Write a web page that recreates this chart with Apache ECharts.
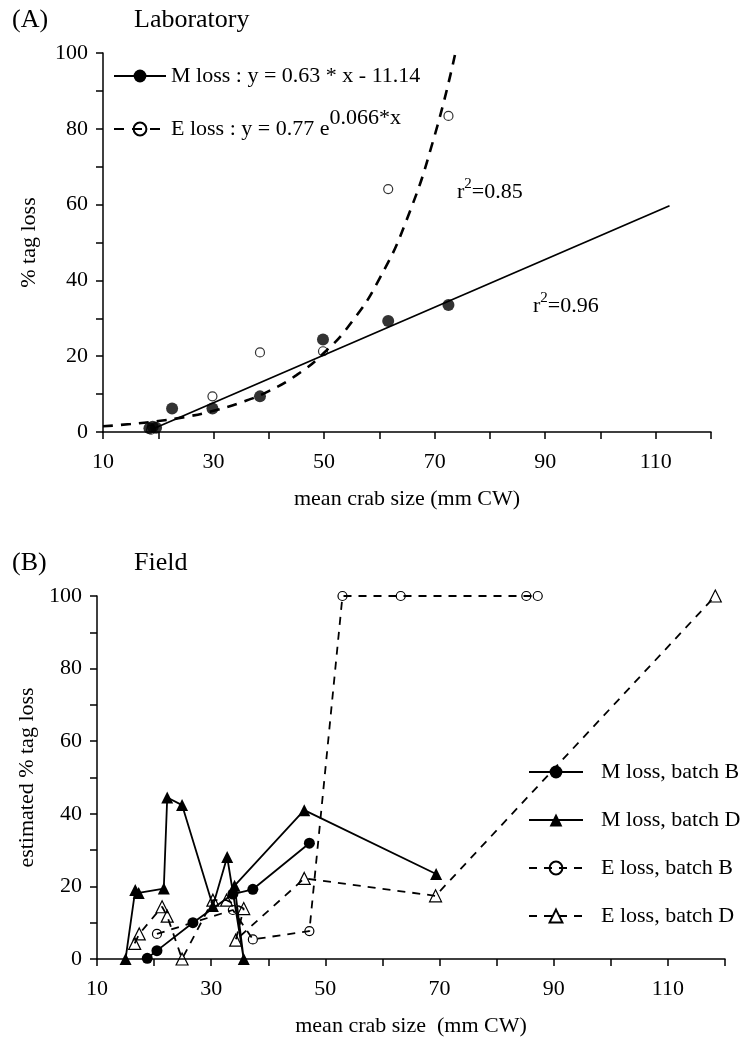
<!DOCTYPE html>
<html>
<head>
<meta charset="utf-8">
<script src="https://cdn.jsdelivr.net/npm/echarts@6/dist/echarts.min.js"></script>
<style>
  html, body { margin: 0; padding: 0; background: #fff; }
  #main { width: 743px; height: 1039px; }
</style>
</head>
<body>
<div id="main"></div>
<script>
// ---- panel A: laboratory (mean crab size, % tag loss) ----
const labMLoss = [[18.4, 1.0], [19.0, 1.4], [19.6, 1.1], [22.5, 6.2], [29.8, 6.2], [38.4, 9.4], [49.8, 24.4], [61.6, 29.3], [72.5, 33.5]];
const labELoss = [[18.7, 0.6], [29.8, 9.4], [38.4, 21.0], [49.8, 21.3], [61.6, 64.1], [72.5, 83.4]];
// fitted lines
const labMFit = [[19.0, 0.8], [112.5, 59.7]];
const labEFit = [[10, 1.5], [15, 2.1], [20, 2.9], [25, 4.0], [30, 5.6], [35, 7.8], [40, 10.8], [45, 15.0], [50, 20.9], [55, 29.0], [60, 40.4], [65, 56.2], [70, 78.2], [73.7, 99.7]];

// ---- panel B: field ----
const mBatchB = [[18.8, 0.2], [20.5, 2.3], [26.8, 10.0], [33.8, 17.9], [37.3, 19.2], [47.2, 31.9]];
const mBatchD = [[15.0, 0], [16.7, 19.0], [17.3, 18.2], [21.7, 19.4], [22.3, 44.5], [24.9, 42.4], [30.3, 14.6], [32.8, 28.1], [35.7, 0], [34.1, 20.2], [46.3, 41.0], [69.4, 23.4]];
const eBatchB = [[20.5, 6.9], [33.8, 13.5], [37.3, 5.4], [47.2, 7.7], [53.0, 100], [63.2, 100], [85.2, 100], [87.2, 100]];
const eBatchD = [[16.6, 4.3], [17.4, 6.9], [21.4, 14.4], [22.3, 11.8], [24.9, 0], [30.3, 16.2], [32.7, 16.2], [35.7, 13.9], [34.3, 5.2], [46.3, 22.2], [69.3, 17.4], [118.3, 100]];

const xTickLabels = [10, 30, 50, 70, 90, 110];
const yTickLabels = [0, 20, 40, 60, 80, 100];

const FONT = '"Liberation Serif", "DejaVu Serif", serif';
const BLACK = '#000';
const FS = 22;

const chart = echarts.init(document.getElementById('main'), null, { renderer: 'canvas' });

function xAxis(gridIndex, name) {
  return {
    type: 'value', gridIndex, min: 10, max: 120, interval: 10,
    name, nameLocation: 'middle', nameGap: 56,
    nameTextStyle: { fontFamily: FONT, fontSize: FS, color: BLACK },
    axisLine: { onZero: false, lineStyle: { color: BLACK, width: 1.5 } },
    axisTick: { length: 7, lineStyle: { color: BLACK, width: 1.5 } },
    axisLabel: {
      fontFamily: FONT, fontSize: FS, color: BLACK, margin: 19,
      formatter: v => xTickLabels.includes(v) ? String(v) : ''
    },
    splitLine: { show: false }
  };
}

function yAxis(gridIndex, name, nameGap) {
  return {
    type: 'value', gridIndex, min: 0, max: 100, interval: 10,
    name, nameLocation: 'middle', nameGap,
    nameTextStyle: { fontFamily: FONT, fontSize: FS, color: BLACK },
    axisLine: { onZero: false, lineStyle: { color: BLACK, width: 1.5 } },
    axisTick: { length: 7, lineStyle: { color: BLACK, width: 1.5 } },
    axisLabel: {
      fontFamily: FONT, fontSize: FS, color: BLACK, margin: 15,
      formatter: v => yTickLabels.includes(v) ? String(v) : ''
    },
    splitLine: { show: false }
  };
}

const openStyle = { color: 'transparent', borderColor: BLACK, borderWidth: 1.2 };
const solidLine = { color: BLACK, width: 1.8, type: 'solid' };
const dashedLine = { color: BLACK, width: 1.8, type: [8, 7] };

function txt(left, top, size, text, rich) {
  return {
    type: 'text', left, top,
    style: { text, font: size + 'px ' + FONT, fill: BLACK, rich }
  };
}

const supRich = {
  a: { fontFamily: FONT, fontSize: FS, verticalAlign: 'middle', lineHeight: 24 },
  b: { fontFamily: FONT, fontSize: 15, verticalAlign: 'middle', lineHeight: 16, padding: [0, 0, 16, 0] }
};

const option = {
  animation: false,
  backgroundColor: '#fff',
  grid: [
    { left: 103, top: 53, width: 608, height: 379 },
    { left: 97, top: 596, width: 628, height: 363 }
  ],
  xAxis: [xAxis(0, 'mean crab size (mm CW)'), xAxis(1, 'mean crab size  (mm CW)')],
  yAxis: [yAxis(0, '% tag loss', 63), yAxis(1, 'estimated % tag loss', 58)],
  legend: [
    {
      data: ['M loss', 'E loss'],
      orient: 'vertical', left: 113, top: 65, padding: 0,
      itemWidth: 52, itemHeight: 16, itemGap: 20,
      formatter: name => name === 'M loss'
        ? '{t|M loss : y = 0.63 * x - 11.14}'
        : '{t|E loss : y = 0.77 e}{s|0.066*x}',
      textStyle: {
        fontFamily: FONT, fontSize: FS, color: BLACK,
        rich: {
          t: { fontFamily: FONT, fontSize: FS, color: BLACK, verticalAlign: 'middle', lineHeight: 24 },
          s: { fontFamily: FONT, fontSize: FS, color: BLACK, verticalAlign: 'middle', lineHeight: 24, padding: [0, 0, 22, 0] }
        }
      }
    },
    {
      data: ['M loss, batch B', 'M loss, batch D', 'E loss, batch B', 'E loss, batch D'],
      orient: 'vertical', left: 528, top: 760, padding: 0,
      itemWidth: 54, itemHeight: 16, itemGap: 24,
      textStyle: { fontFamily: FONT, fontSize: FS, color: BLACK, lineHeight: 24, padding: [0, 0, 0, 13] }
    }
  ],
  graphic: [
    txt(12, 7, 26, '(A)'),
    txt(134, 7, 26, 'Laboratory'),
    txt(12, 550, 26, '(B)'),
    txt(134, 550, 26, 'Field'),
    txt(457, 177, FS, '{a|r}{b|2}{a|=0.85}', supRich),
    txt(533, 291, FS, '{a|r}{b|2}{a|=0.96}', supRich)
  ],
  series: [
    {
      name: 'E loss', type: 'line', xAxisIndex: 0, yAxisIndex: 0,
      data: labEFit, symbol: 'none', smooth: true, z: 2,
      lineStyle: { color: BLACK, width: 2.6, type: [10, 8] },
      itemStyle: openStyle
    },
    {
      name: 'M loss', type: 'line', xAxisIndex: 0, yAxisIndex: 0,
      data: labMFit, symbol: 'none', z: 2,
      lineStyle: solidLine, itemStyle: { color: BLACK }
    },
    {
      name: 'E loss points', type: 'scatter', xAxisIndex: 0, yAxisIndex: 0,
      data: labELoss, symbol: 'circle', symbolSize: 9, z: 3,
      itemStyle: openStyle
    },
    {
      name: 'M loss points', type: 'scatter', xAxisIndex: 0, yAxisIndex: 0,
      data: labMLoss, symbol: 'circle', symbolSize: 12, z: 4,
      itemStyle: { color: BLACK }
    },
    {
      name: 'E loss, batch B', type: 'line', xAxisIndex: 1, yAxisIndex: 1,
      data: eBatchB, symbol: 'circle', symbolSize: 9, z: 2,
      lineStyle: dashedLine, itemStyle: openStyle
    },
    {
      name: 'E loss, batch D', type: 'line', xAxisIndex: 1, yAxisIndex: 1,
      data: eBatchD, symbol: 'triangle', symbolSize: 12, z: 2,
      lineStyle: dashedLine, itemStyle: openStyle
    },
    {
      name: 'M loss, batch B', type: 'line', xAxisIndex: 1, yAxisIndex: 1,
      data: mBatchB, symbol: 'circle', symbolSize: 11, z: 3,
      lineStyle: solidLine, itemStyle: { color: BLACK }
    },
    {
      name: 'M loss, batch D', type: 'line', xAxisIndex: 1, yAxisIndex: 1,
      data: mBatchD, symbol: 'triangle', symbolSize: 12, z: 3,
      lineStyle: solidLine, itemStyle: { color: BLACK }
    }
  ]
};

chart.setOption(option);
</script>
</body>
</html>
